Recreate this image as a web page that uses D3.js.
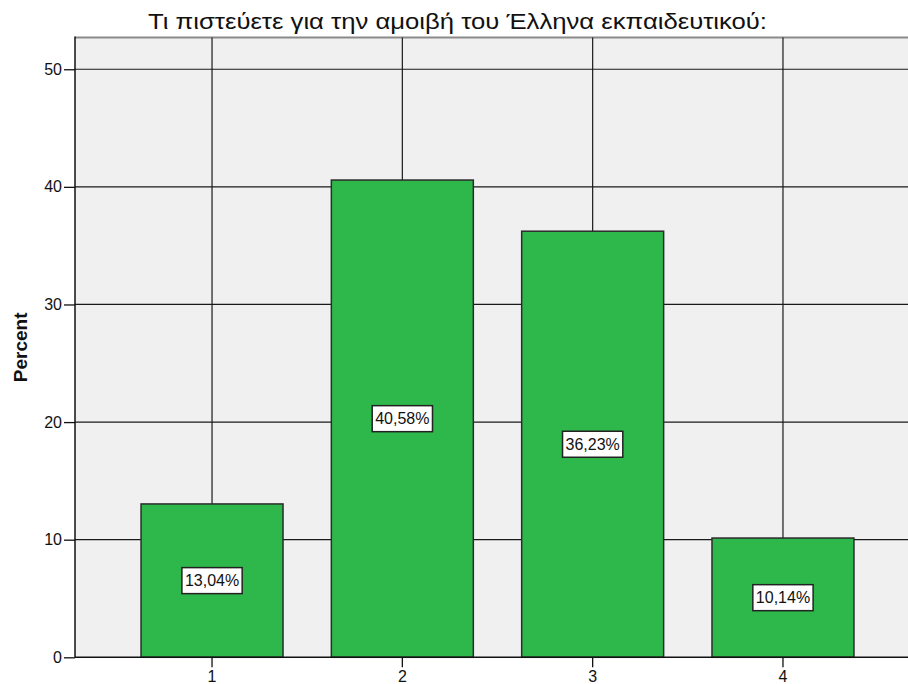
<!DOCTYPE html>
<html>
<head>
<meta charset="utf-8">
<script src="https://cdn.jsdelivr.net/npm/d3@7"></script>
<style>
  body { margin: 0; background: #fff; }
  text { font-family: Arial, "Liberation Sans", sans-serif; }
</style>
</head>
<body>
<div id="viz"></div>
<script>
const width = 908;
const height = 684;
const margin = {top: 37.5, right: -12, bottom: 26.7, left: 75};

const titleText = 'Τι πιστεύετε για την αμοιβή του Έλληνα εκπαιδευτικού:';
const categories = ['1', '2', '3', '4'];
const percents = [13.04, 40.58, 36.23, 10.14];
const labels = ['13,04%', '40,58%', '36,23%', '10,14%'];
const yTicks = [0, 10, 20, 30, 40, 50];

const barColor = '#2eb84b';
const plotBg = '#f0f0f0';

const svg = d3.select('#viz')
  .append('svg')
    .attr('width', width)
    .attr('height', height);

const xScale = d3.scaleBand()
  .domain(categories)
  .range([margin.left, width - margin.right])
  .paddingInner(0.254)
  .paddingOuter(0.347);

const yScale = d3.scaleLinear()
  .domain([0, 52.7])
  .range([height - margin.bottom, margin.top]);

const y0 = yScale(0);

// plot background
svg.append('rect')
  .attr('x', margin.left)
  .attr('y', margin.top)
  .attr('width', width - margin.right - margin.left)
  .attr('height', y0 - margin.top)
  .attr('fill', plotBg);

// top border
svg.append('line')
  .attr('x1', margin.left).attr('x2', width)
  .attr('y1', margin.top).attr('y2', margin.top)
  .attr('stroke', '#8a8a8a')
  .attr('stroke-width', 2);

// horizontal grid
svg.append('g')
  .selectAll('line')
  .data(yTicks.filter(d => d > 0))
  .join('line')
    .attr('x1', margin.left).attr('x2', width)
    .attr('y1', d => yScale(d)).attr('y2', d => yScale(d))
    .attr('stroke', '#1a1a1a')
    .attr('stroke-width', 1.2);

// vertical grid at category centres
svg.append('g')
  .selectAll('line')
  .data(categories)
  .join('line')
    .attr('x1', d => xScale(d) + xScale.bandwidth() / 2)
    .attr('x2', d => xScale(d) + xScale.bandwidth() / 2)
    .attr('y1', margin.top).attr('y2', y0)
    .attr('stroke', '#1a1a1a')
    .attr('stroke-width', 1.2);

// bars
svg.append('g')
  .selectAll('rect')
  .data(percents)
  .join('rect')
    .attr('x', (d, i) => xScale(categories[i]))
    .attr('y', d => yScale(d))
    .attr('width', xScale.bandwidth())
    .attr('height', d => y0 - yScale(d))
    .attr('fill', barColor)
    .attr('stroke', '#2b2b2b')
    .attr('stroke-width', 1.5);

// axes
const yAxis = svg.append('g')
  .attr('transform', `translate(${margin.left}, 0)`)
  .call(d3.axisLeft(yScale).tickValues(yTicks).tickSize(11).tickPadding(2));

const xAxis = svg.append('g')
  .attr('transform', `translate(0, ${y0})`)
  .call(d3.axisBottom(xScale).tickSize(10).tickPadding(3));

[yAxis, xAxis].forEach(ax => {
  ax.select('.domain').remove();
  ax.selectAll('line').attr('stroke', '#111').attr('stroke-width', 1.3);
  ax.selectAll('text')
    .attr('fill', '#111')
    .style('font-size', '16px')
    .style('font-family', 'Arial, "Liberation Sans", sans-serif');
});

// axis lines
svg.append('line')
  .attr('x1', margin.left).attr('x2', margin.left)
  .attr('y1', margin.top - 1).attr('y2', y0)
  .attr('stroke', '#111').attr('stroke-width', 1.5);
svg.append('line')
  .attr('x1', margin.left).attr('x2', width)
  .attr('y1', y0).attr('y2', y0)
  .attr('stroke', '#111').attr('stroke-width', 1.5);

// value labels in boxes
const labelGroups = svg.append('g')
  .selectAll('g')
  .data(percents)
  .join('g')
    .attr('transform', (d, i) =>
      `translate(${xScale(categories[i]) + xScale.bandwidth() / 2}, ${yScale(d / 2)})`);

labelGroups.append('rect')
  .attr('fill', '#fff')
  .attr('stroke', '#222')
  .attr('stroke-width', 1.5);

labelGroups.append('text')
  .attr('text-anchor', 'middle')
  .attr('dy', '0.36em')
  .style('font-size', '16px')
  .attr('fill', '#111')
  .text((d, i) => labels[i]);

labelGroups.each(function() {
  const g = d3.select(this);
  const w = g.select('text').node().getComputedTextLength();
  g.select('rect')
    .attr('x', -w / 2 - 3)
    .attr('y', -13)
    .attr('width', w + 6)
    .attr('height', 26);
});

// y axis title
svg.append('text')
  .attr('transform', `translate(27, ${(margin.top + y0) / 2}) rotate(-90)`)
  .attr('text-anchor', 'middle')
  .style('font-size', '19px')
  .style('font-weight', 'bold')
  .attr('fill', '#111')
  .text('Percent');

// chart title
svg.append('text')
  .attr('x', 148)
  .attr('y', 29)
  .attr('textLength', 619)
  .attr('lengthAdjust', 'spacingAndGlyphs')
  .style('font-size', '22px')
  .attr('fill', '#111')
  .text(titleText);
</script>
</body>
</html>
